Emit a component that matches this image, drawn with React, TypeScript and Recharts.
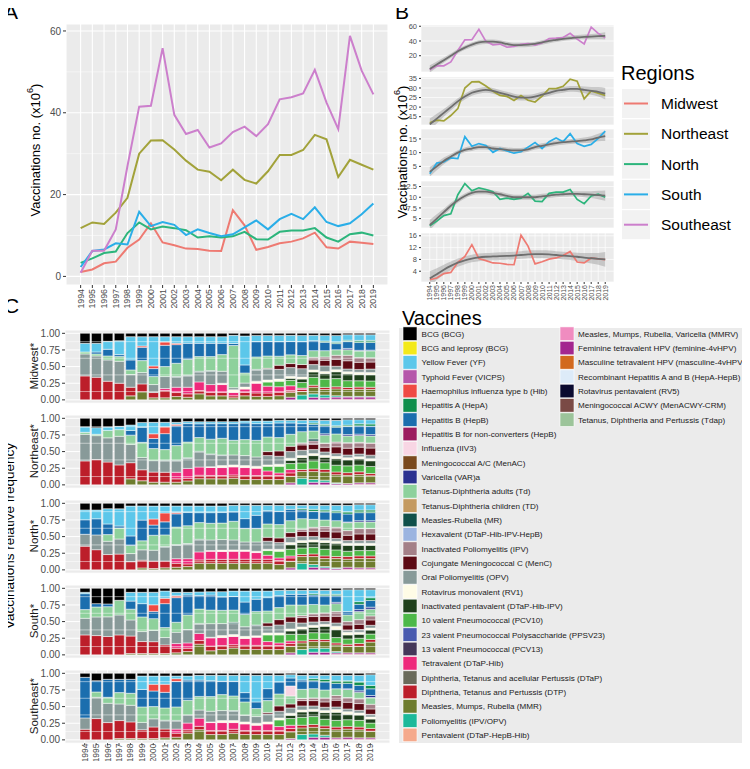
import React from "react";
import {
  LineChart,
  Line,
  XAxis,
  YAxis,
  CartesianGrid,
  ReferenceLine,
  BarChart,
  Bar,
  ComposedChart,
  Area,
} from "recharts";

const FONT = '"Liberation Sans", Arial, Helvetica, sans-serif';

const YEARS = [
  1994, 1995, 1996, 1997, 1998, 1999, 2000, 2001, 2002, 2003, 2004, 2005, 2006,
  2007, 2008, 2009, 2010, 2011, 2012, 2013, 2014, 2015, 2016, 2017, 2018, 2019,
];

// vaccinations (x10^6) per region
const MIDWEST = [1.1, 1.7, 3.2, 3.6, 7, 9, 13, 8.3, 7.6, 6.8, 6.7, 6.3, 6.2, 16.2, 12.5, 6.5, 7.2, 8.1, 8.5, 9.3, 10.7, 7.1, 6.8, 8.5, 8.2, 7.9];
const NORTHEAST = [11.8, 13.2, 12.8, 15.6, 19.2, 30, 33.2, 33.3, 31, 28.3, 26.1, 25.6, 23.5, 26.1, 23.6, 22.7, 25.7, 29.7, 29.7, 30.9, 34.6, 33.5, 24.3, 28.5, 27.3, 26.1];
const NORTH = [3.3, 4.4, 5.7, 6.1, 10.6, 13.2, 11.5, 12.2, 11.8, 11.3, 9.5, 9.8, 9.5, 9.8, 10.9, 9.1, 9.0, 10.9, 11.2, 11.2, 11.8, 9.5, 8.5, 10.3, 10.7, 10.0];
const SOUTH = [2.3, 6.2, 6.6, 8.1, 7.8, 15.8, 12.3, 13.3, 12.6, 10.1, 11.5, 10.6, 9.8, 10.3, 12, 13.7, 11.5, 14, 15.3, 14, 16.9, 13.3, 12.3, 13, 15.2, 17.8];
const SOUTHEAST = [0.9, 6.3, 6.3, 11.5, 27, 41.5, 41.7, 55.8, 39.5, 34.8, 35.8, 31.5, 32.5, 35.3, 36.6, 34.3, 37.2, 43.3, 43.8, 44.7, 50.5, 42.5, 36, 58.8, 50.3, 44.5];

// smoothed trend (grey line) and half-width of its ribbon
const SMOOTH_SE = [2, 8, 14, 20, 26, 31, 35, 38, 39, 39, 38, 36, 34.5, 34.5, 35, 36, 38, 40, 41.5, 43, 44, 45, 45.5, 46, 46.5, 47];
const BAND_SE = [5, 4, 3.5, 3, 3, 3, 3, 3, 3, 3, 3, 3, 3, 3, 3, 3, 3, 3, 3, 3, 3, 3, 3.2, 3.5, 4, 5];
const SMOOTH_NE = [11, 14, 17, 20, 23, 25.5, 27.5, 28.5, 29, 28.5, 27.5, 26.5, 25.5, 25, 25, 25.5, 26.5, 27.5, 28.5, 29, 29.5, 29.5, 29, 28.5, 28, 27];
const BAND_NE = [3, 2.5, 2, 1.8, 1.6, 1.5, 1.5, 1.5, 1.5, 1.5, 1.5, 1.5, 1.5, 1.5, 1.5, 1.5, 1.5, 1.5, 1.5, 1.5, 1.5, 1.6, 1.8, 2, 2.5, 3];
const SMOOTH_S = [3, 5, 7, 8.5, 10, 11, 11.5, 12, 12, 11.5, 11.3, 11, 10.8, 10.8, 11.2, 12, 12.5, 13, 13.5, 13.8, 14, 14.2, 14.5, 14.8, 15.5, 16];
const BAND_S = [1.8, 1.4, 1.2, 1, 0.9, 0.9, 0.9, 0.9, 0.9, 0.9, 0.9, 0.9, 0.9, 0.9, 0.9, 0.9, 0.9, 0.9, 0.9, 0.9, 0.9, 0.9, 1, 1.2, 1.4, 1.8];
const SMOOTH_N = [3.5, 5, 6.5, 8, 9.3, 10.3, 11, 11.3, 11.3, 11, 10.7, 10.3, 10, 10, 10, 10, 10.2, 10.4, 10.6, 10.7, 10.8, 10.8, 10.7, 10.6, 10.5, 10.4];
const BAND_N = [1.2, 1, 0.8, 0.7, 0.6, 0.6, 0.6, 0.6, 0.6, 0.6, 0.6, 0.6, 0.6, 0.6, 0.6, 0.6, 0.6, 0.6, 0.6, 0.6, 0.6, 0.6, 0.7, 0.8, 1, 1.2];
const SMOOTH_MW = [1.5, 3, 4.5, 5.8, 6.9, 7.7, 8.3, 8.7, 8.9, 9, 9.1, 9.2, 9.3, 9.5, 9.7, 9.8, 9.8, 9.7, 9.5, 9.3, 9.1, 8.9, 8.6, 8.4, 8.2, 8];
const BAND_MW = [2.5, 2, 1.7, 1.5, 1.4, 1.3, 1.3, 1.3, 1.3, 1.3, 1.3, 1.3, 1.3, 1.3, 1.3, 1.3, 1.3, 1.3, 1.3, 1.3, 1.3, 1.4, 1.6, 1.8, 2, 2.5];

const REGION_COLORS: Record<string, string> = {
  Midwest: "#EE7A72",
  Northeast: "#A2A23A",
  North: "#2DB57C",
  South: "#2AAEE8",
  Southeast: "#CC7FCC",
};
const REGION_NAMES = ["Midwest", "Northeast", "North", "South", "Southeast"];

// legend order of the vaccines (ggplot stacks the first one on top)
const VACCINES = [
  { key: "bcg", name: "BCG (BCG)", color: "#000000" },
  { key: "bcgl", name: "BCG and leprosy (BCG)", color: "#F3E91A" },
  { key: "yf", name: "Yellow Fever (YF)", color: "#5CC7EA" },
  { key: "vicps", name: "Typhoid Fever (VICPS)", color: "#B556AA" },
  { key: "hib", name: "Haemophilus influenza type b (Hib)", color: "#EF4A43" },
  { key: "hepa", name: "Hepatitis A (HepA)", color: "#108E4C" },
  { key: "hepb", name: "Hepatitis B (HepB)", color: "#1B6EAE" },
  { key: "hepbn", name: "Hepatitis B for non-converters (HepB)", color: "#9B1B5F" },
  { key: "iiv3", name: "Influenza (IIV3)", color: "#F8D6E4" },
  { key: "menac", name: "Meningococcal A/C (MenAC)", color: "#7A4A1E" },
  { key: "var", name: "Varicella (VAR)a", color: "#2B3190" },
  { key: "td", name: "Tetanus-Diphtheria adults (Td)", color: "#8ED19C" },
  { key: "tdc", name: "Tetanus-Diphtheria children (TD)", color: "#C49A60" },
  { key: "mr", name: "Measles-Rubella (MR)", color: "#10504A" },
  { key: "hexa", name: "Hexavalent (DTaP-Hib-IPV-HepB)", color: "#9BB4E0" },
  { key: "ipv", name: "Inactivated Poliomyelitis (IPV)", color: "#A48088" },
  { key: "menc", name: "Cojungate Meningococcal C (MenC)", color: "#5C0A14" },
  { key: "opv", name: "Oral Poliomyelitis (OPV)", color: "#889A99" },
  { key: "rv1", name: "Rotavirus monovalent (RV1)", color: "#FFFCE6" },
  { key: "penta", name: "Inactivated pentavalent (DTaP-Hib-IPV)", color: "#1F401C" },
  { key: "pcv10", name: "10 valent Pneumococcal (PCV10)", color: "#4DB848" },
  { key: "ppsv23", name: "23 valent Pneumococcal Polysaccharide (PPSV23)", color: "#4A5BAF" },
  { key: "pcv13", name: "13 valent Pneumococcal (PCV13)", color: "#45375A" },
  { key: "tetra", name: "Tetravalent (DTaP-Hib)", color: "#EE2A7B" },
  { key: "dtap", name: "Diphtheria, Tetanus and acellular Pertussis (DTaP)", color: "#6A6A5A" },
  { key: "dtp", name: "Diphtheria, Tetanus and Pertussis (DTP)", color: "#BC1E2A" },
  { key: "mmr", name: "Measles, Mumps, Rubella (MMR)", color: "#6E7C2E" },
  { key: "polio", name: "Poliomyelitis (IPV/OPV)", color: "#1CB99A" },
  { key: "pentav", name: "Pentavalent (DTaP-HepB-Hib)", color: "#F5A98C" },
  { key: "mmrv", name: "Measles, Mumps, Rubella, Varicella (MMRV)", color: "#F08CC0" },
  { key: "hpv", name: "Feminine tetravalent HPV (feminine-4vHPV)", color: "#A3268F" },
  { key: "hpvm", name: "Masculine tetravalent HPV (masculine-4vHPV)", color: "#D2691E" },
  { key: "hepahepb", name: "Recombinant Hepatitis A and B (HepA-HepB)", color: "#DDEBF8" },
  { key: "rv5", name: "Rotavirus pentavalent (RV5)", color: "#0A0A30" },
  { key: "menacwy", name: "Meningococcal ACWY (MenACWY-CRM)", color: "#7A4A45" },
  { key: "tdap", name: "Tetanus, Diphtheria and Pertussis (Tdap)", color: "#9CC49A" },
];

type Mix = Record<string, number>;

// relative share of each vaccine per year (1994..2019)
const MIX_MIDWEST: Mix[] = [
  { dtp: 36, opv: 33, td: 3, yf: 13, bcg: 15 },
  { dtp: 34, opv: 32, td: 3, hepb: 3, yf: 13, bcg: 15 },
  { dtp: 28, opv: 32, td: 6, hepb: 10, yf: 12, bcg: 12 },
  { dtp: 25, opv: 33, td: 7, hepb: 3, yf: 21, bcg: 11 },
  { mmr: 6, dtp: 13, opv: 19, td: 7, hepb: 15, yf: 35, bcg: 5 },
  { mmr: 12, dtp: 12, opv: 17, td: 18, hepb: 20, hib: 2, yf: 14, bcg: 5 },
  { mmr: 3, dtp: 8, opv: 12, td: 12, hepb: 12, hib: 4, yf: 44, bcg: 5 },
  { mmr: 3, dtp: 11, tetra: 3, opv: 18, td: 15, hepb: 32, hib: 5, yf: 8, bcg: 5 },
  { mmr: 5, dtp: 6, tetra: 8, opv: 15, mr: 1, td: 20, hepb: 28, hib: 2, yf: 10, bcg: 5 },
  { mmr: 4, dtp: 5, tetra: 10, opv: 17, mr: 1, td: 24, hepb: 24, yf: 10, bcg: 5 },
  { mmr: 9, dtp: 5, tetra: 13, opv: 15, mr: 1, td: 22, hepb: 20, yf: 10, bcg: 5 },
  { mmr: 6, dtp: 5, tetra: 12, opv: 20, mr: 1, td: 21, hepb: 20, yf: 10, bcg: 5 },
  { mmr: 6, dtp: 5, tetra: 12, rv1: 2, opv: 18, td: 25, hepb: 17, yf: 10, bcg: 5 },
  { mmr: 3, dtp: 3, tetra: 5, rv1: 4, opv: 3, td: 62, hepb: 3, yf: 12, bcg: 3 },
  { mmr: 6, dtp: 5, tetra: 5, rv1: 3, opv: 6, td: 15, hepb: 12, yf: 43, bcg: 4 },
  { mmr: 5, dtp: 5, tetra: 14, rv1: 3, opv: 16, mr: 1, td: 18, hepb: 22, yf: 9, bcg: 3 },
  { mmr: 5, dtp: 5, tetra: 10, pcv10: 6, rv1: 3, opv: 16, menc: 1, td: 18, hepb: 21, yf: 9, bcg: 3 },
  { mmr: 6, dtp: 5, tetra: 8, pcv10: 8, rv1: 3, opv: 14, menc: 6, td: 13, hepb: 21, yf: 9, bcg: 3 },
  { hpv: 4, mmr: 7, dtp: 3, tetra: 7, pcv10: 8, penta: 3, rv1: 3, opv: 13, menc: 6, td: 13, hepb: 20, yf: 9, bcg: 3 },
  { polio: 7, mmr: 5, dtp: 3, tetra: 2, pcv10: 8, penta: 5, rv1: 3, opv: 12, menc: 6, td: 13, hepb: 20, yf: 9, bcg: 3 },
  { hpv: 4, polio: 5, mmr: 10, dtp: 3, pcv10: 12, penta: 8, rv1: 3, opv: 8, menc: 7, ipv: 4, td: 10, hepb: 15, yf: 8, bcg: 3 },
  { hpv: 3, polio: 4, mmr: 8, dtp: 3, pcv10: 12, penta: 8, rv1: 3, opv: 8, menc: 8, ipv: 5, td: 9, hepb: 12, hepa: 2, yf: 8, bcg: 3 },
  { hpvm: 1, hpv: 3, polio: 2, mmr: 10, dtp: 3, pcv10: 12, penta: 10, rv1: 3, opv: 5, menc: 10, ipv: 6, td: 8, hepb: 9, hepa: 2, yf: 10, bcg: 3 },
  { hpvm: 1, hpv: 3, polio: 1, mmr: 10, dtp: 3, pcv10: 10, penta: 10, rv1: 3, opv: 4, menc: 12, ipv: 8, td: 8, var: 2, hepb: 10, hepa: 2, yf: 8, bcg: 2 },
  { hpvm: 1, hpv: 3, polio: 1, mmr: 10, dtp: 3, pcv10: 9, penta: 9, rv1: 3, opv: 4, menc: 10, ipv: 7, td: 9, var: 1, hepb: 11, hepa: 3, yf: 8, bcg: 2 },
  { hpvm: 1, hpv: 3, polio: 1, mmr: 10, dtp: 3, pcv10: 9, penta: 9, rv1: 3, opv: 5, menc: 10, ipv: 6, td: 10, var: 1, hepb: 11, hepa: 3, yf: 8, bcg: 2 },
];

const MIX_NORTHEAST: Mix[] = [
  { dtp: 36, opv: 40, td: 3, yf: 8, bcg: 13 },
  { dtp: 38, opv: 36, td: 2, yf: 10, bcg: 14 },
  { dtp: 34, opv: 36, td: 11, yf: 5, bcg: 13 },
  { dtp: 30, opv: 43, td: 10, yf: 5, bcg: 12 },
  { mmr: 9, dtp: 24, opv: 27, td: 14, hepb: 7, yf: 8, bcg: 10 },
  { mmr: 6, dtp: 16, opv: 18, td: 22, hepb: 22, yf: 7, bcg: 6 },
  { mmr: 4, dtp: 15, opv: 17, td: 18, hepb: 15, hib: 7, yf: 17, bcg: 6 },
  { mmr: 4, dtp: 15, opv: 17, mr: 1, td: 16, hepb: 24, hib: 10, yf: 7, bcg: 6 },
  { mmr: 4, dtp: 5, tetra: 10, opv: 17, mr: 1, td: 22, hepb: 30, hib: 2, yf: 3, bcg: 6 },
  { mmr: 6, dtp: 4, tetra: 15, opv: 15, mr: 1, td: 24, hepb: 28, yf: 3, bcg: 5 },
  { mmr: 9, dtp: 5, tetra: 12, opv: 22, mr: 1, td: 20, hepb: 20, yf: 3, bcg: 5 },
  { mmr: 9, dtp: 5, tetra: 12, rv1: 1, opv: 18, mr: 1, td: 22, hepb: 23, yf: 3, bcg: 5 },
  { mmr: 9, dtp: 5, tetra: 12, rv1: 3, opv: 15, mr: 1, td: 25, hepb: 22, yf: 3, bcg: 5 },
  { mmr: 10, dtp: 5, tetra: 12, rv1: 3, opv: 15, td: 22, hepb: 25, yf: 3, bcg: 5 },
  { mmr: 8, dtp: 6, tetra: 12, rv1: 3, opv: 15, td: 24, hepb: 25, yf: 3, bcg: 4 },
  { mmr: 8, dtp: 6, tetra: 11, rv1: 3, opv: 14, td: 25, hepb: 25, yf: 4, bcg: 4 },
  { mmr: 8, dtp: 6, tetra: 7, pcv10: 7, rv1: 2, opv: 14, menc: 6, td: 22, hepb: 20, yf: 4, bcg: 4 },
  { mmr: 8, dtp: 6, tetra: 4, pcv10: 10, rv1: 3, opv: 12, menc: 8, td: 20, hepb: 22, yf: 4, bcg: 3 },
  { hpv: 3, mmr: 10, dtp: 5, tetra: 5, pcv10: 9, penta: 5, rv1: 3, opv: 10, menc: 8, td: 18, hepb: 17, yf: 4, bcg: 3 },
  { polio: 10, mmr: 10, dtp: 3, pcv10: 10, penta: 8, rv1: 3, opv: 8, menc: 8, ipv: 3, td: 17, hepb: 12, yf: 5, bcg: 3 },
  { hpv: 4, polio: 4, mmr: 12, dtp: 4, pcv10: 12, penta: 8, rv1: 3, opv: 6, menc: 8, ipv: 5, mr: 3, td: 12, hepb: 10, hepa: 2, yf: 4, bcg: 3 },
  { hpv: 4, polio: 3, mmr: 12, dtp: 4, pcv10: 10, penta: 8, rv1: 3, opv: 5, menc: 7, ipv: 6, td: 12, var: 2, hepb: 12, hepa: 2, yf: 6, bcg: 3 },
  { hpv: 2, polio: 1, mmr: 12, dtp: 4, pcv10: 10, penta: 10, rv1: 3, opv: 4, menc: 10, ipv: 7, td: 12, hepb: 10, hepa: 2, yf: 8, bcg: 3 },
  { hpv: 2, mmr: 12, dtp: 4, pcv10: 10, penta: 9, rv1: 3, opv: 4, menc: 10, ipv: 8, td: 10, var: 2, hepb: 12, hepa: 2, yf: 8, bcg: 2 },
  { hpvm: 1, hpv: 2, mmr: 12, dtp: 4, pcv10: 10, penta: 9, rv1: 3, opv: 4, menc: 10, ipv: 7, td: 10, var: 2, hepb: 12, hepa: 3, yf: 6, bcg: 2 },
  { hpvm: 1, hpv: 2, mmr: 10, dtp: 3, pcv10: 10, penta: 8, rv1: 3, opv: 5, menc: 10, ipv: 7, td: 10, var: 2, hepb: 12, hepa: 3, yf: 6, bcg: 2 },
];

const MIX_NORTH: Mix[] = [
  { dtp: 36, opv: 18, hepb: 22, yf: 15, bcg: 10 },
  { dtp: 30, opv: 22, hepb: 24, yf: 13, bcg: 10 },
  { dtp: 23, opv: 20, td: 10, hepb: 16, yf: 23, bcg: 8 },
  { dtp: 23, opv: 22, td: 16, hepb: 3, yf: 25, bcg: 8 },
  { dtp: 12, opv: 12, td: 12, hepb: 14, yf: 44, bcg: 4 },
  { mmr: 3, dtp: 12, opv: 16, td: 14, hepb: 32, yf: 22, bcg: 4 },
  { mmr: 2, dtp: 11, opv: 16, td: 22, hepb: 15, hib: 9, yf: 19, bcg: 4 },
  { mmr: 3, dtp: 10, opv: 20, mr: 1, td: 17, hepb: 19, hib: 13, yf: 10, bcg: 4 },
  { mmr: 4, dtp: 6, tetra: 7, opv: 20, mr: 1, td: 27, hepb: 20, hib: 2, yf: 10, bcg: 4 },
  { mmr: 5, dtp: 4, tetra: 8, opv: 22, mr: 1, td: 27, hepb: 20, yf: 10, bcg: 4 },
  { mmr: 10, dtp: 5, tetra: 12, opv: 18, mr: 1, td: 25, hepb: 15, yf: 10, bcg: 4 },
  { mmr: 10, dtp: 6, tetra: 12, rv1: 1, opv: 16, td: 25, hepb: 16, yf: 10, bcg: 4 },
  { mmr: 10, dtp: 6, tetra: 12, rv1: 2, opv: 16, td: 25, hepb: 16, yf: 10, bcg: 4 },
  { mmr: 10, dtp: 6, tetra: 12, rv1: 2, opv: 15, td: 28, hepb: 14, yf: 10, bcg: 3 },
  { mmr: 10, dtp: 6, tetra: 12, rv1: 2, opv: 12, td: 20, hepb: 15, yf: 20, bcg: 3 },
  { mmr: 10, dtp: 6, tetra: 10, rv1: 2, opv: 14, td: 20, hepb: 20, yf: 15, bcg: 3 },
  { mmr: 10, dtp: 6, tetra: 6, pcv10: 7, rv1: 2, opv: 12, menc: 6, td: 20, hepb: 20, yf: 8, bcg: 3 },
  { mmr: 8, dtp: 6, tetra: 4, pcv10: 10, rv1: 3, opv: 10, menc: 7, td: 20, hepb: 20, yf: 9, bcg: 3 },
  { hpv: 3, mmr: 10, dtp: 5, tetra: 3, pcv10: 10, penta: 7, rv1: 3, opv: 8, menc: 7, td: 18, hepb: 17, yf: 6, bcg: 3 },
  { polio: 10, mmr: 10, dtp: 3, pcv10: 10, penta: 8, rv1: 3, opv: 6, menc: 8, ipv: 3, td: 16, hepb: 13, hepa: 2, yf: 5, bcg: 3 },
  { hpv: 4, polio: 4, mmr: 12, dtp: 4, pcv10: 10, penta: 8, rv1: 3, opv: 5, menc: 8, ipv: 6, td: 12, hepb: 12, hepa: 3, yf: 6, bcg: 3 },
  { hpv: 3, polio: 2, mmr: 12, dtp: 4, pcv10: 10, penta: 10, rv1: 3, opv: 4, menc: 10, ipv: 7, td: 10, hepb: 12, hepa: 3, yf: 7, bcg: 3 },
  { hpv: 2, polio: 1, mmr: 14, dtp: 3, pcv10: 10, penta: 10, rv1: 3, opv: 4, menc: 10, ipv: 7, td: 10, hepb: 12, hepa: 3, yf: 8, bcg: 3 },
  { hpvm: 1, hpv: 3, mmr: 12, dtp: 4, pcv10: 8, penta: 9, rv1: 3, opv: 4, menc: 8, ipv: 7, td: 12, var: 1, hepb: 12, hepa: 3, yf: 10, bcg: 3 },
  { hpvm: 1, hpv: 2, mmr: 14, dtp: 4, pcv10: 8, penta: 8, rv1: 3, opv: 4, menc: 10, ipv: 8, td: 10, var: 2, hepb: 12, hepa: 4, yf: 8, bcg: 2 },
  { hpvm: 1, hpv: 2, mmr: 14, dtp: 4, pcv10: 8, penta: 8, rv1: 3, opv: 4, menc: 10, ipv: 8, td: 10, var: 2, hepb: 12, hepa: 4, yf: 8, bcg: 2 },
];

const MIX_SOUTH: Mix[] = [
  { dtp: 30, opv: 25, td: 13, hepb: 24, yf: 2, bcg: 6 },
  { dtp: 29, opv: 28, td: 15, hepb: 5, bcg: 23 },
  { dtp: 27, opv: 29, td: 15, hepb: 4, bcg: 23 },
  { dtp: 30, opv: 30, td: 22, bcg: 18 },
  { mmr: 2, dtp: 26, opv: 24, td: 16, hepb: 12, yf: 13, bcg: 6 },
  { mmr: 2, dtp: 18, opv: 15, td: 22, hepb: 20, yf: 17, bcg: 6 },
  { mmr: 2, dtp: 18, opv: 17, td: 18, hepb: 11, hib: 10, yf: 19, bcg: 6 },
  { mmr: 2, dtp: 13, opv: 11, td: 15, hepb: 36, hib: 8, yf: 11, bcg: 4 },
  { mmr: 3, dtp: 7, tetra: 7, opv: 17, td: 15, hepb: 37, hib: 3, yf: 5, bcg: 6 },
  { mmr: 5, dtp: 5, tetra: 8, opv: 20, td: 22, hepb: 30, yf: 4, bcg: 6 },
  { mmr: 15, dtp: 5, tetra: 10, opv: 13, mr: 1, td: 20, hepb: 19, yf: 5, bcg: 5 },
  { mmr: 6, dtp: 7, tetra: 12, rv1: 1, opv: 20, td: 20, hepb: 22, yf: 5, bcg: 5 },
  { mmr: 8, dtp: 6, tetra: 12, rv1: 3, opv: 18, td: 20, hepb: 20, yf: 8, bcg: 5 },
  { mmr: 10, dtp: 5, tetra: 12, rv1: 3, opv: 16, mr: 2, td: 18, hepb: 20, yf: 8, bcg: 4 },
  { mmr: 8, dtp: 6, tetra: 10, rv1: 3, opv: 14, td: 18, hepb: 18, yf: 16, bcg: 4 },
  { mmr: 8, dtp: 6, tetra: 12, rv1: 2, opv: 15, mr: 1, td: 20, hepb: 18, yf: 12, bcg: 4 },
  { mmr: 8, dtp: 6, tetra: 6, pcv10: 10, rv1: 3, opv: 10, menc: 5, td: 18, hepb: 20, yf: 10, bcg: 4 },
  { mmr: 8, dtp: 6, tetra: 4, pcv10: 12, rv1: 3, opv: 12, menc: 8, td: 18, hepb: 18, yf: 8, bcg: 3 },
  { hpv: 3, mmr: 10, dtp: 4, tetra: 4, pcv10: 10, penta: 5, rv1: 3, opv: 10, menc: 8, td: 18, hepb: 16, yf: 6, bcg: 3 },
  { polio: 8, mmr: 10, dtp: 3, pcv10: 10, penta: 8, rv1: 3, opv: 6, menc: 8, ipv: 3, td: 16, hepb: 16, yf: 6, bcg: 3 },
  { hpv: 4, polio: 6, mmr: 10, dtp: 3, pcv10: 10, penta: 8, rv1: 3, opv: 5, menc: 8, ipv: 4, td: 14, hepb: 14, hepa: 2, yf: 5, bcg: 3 },
  { hpv: 4, polio: 6, mmr: 10, dtp: 3, pcv10: 10, penta: 10, rv1: 3, opv: 4, menc: 8, ipv: 5, td: 12, hepb: 14, hepa: 2, yf: 6, bcg: 3 },
  { hpvm: 1, hpv: 2, polio: 2, mmr: 10, dtp: 3, pcv10: 8, penta: 12, rv1: 5, opv: 5, menc: 10, ipv: 7, td: 12, var: 2, hepb: 10, hepa: 2, yf: 6, bcg: 3 },
  { hpvm: 1, hpv: 2, mmr: 10, dtp: 3, pcv10: 8, penta: 6, rv1: 4, opv: 3, menc: 8, ipv: 5, td: 10, hepb: 5, yf: 33, bcg: 2 },
  { hpvm: 1, hpv: 2, mmr: 10, dtp: 4, pcv10: 8, penta: 6, rv1: 3, opv: 4, menc: 8, ipv: 7, td: 12, var: 3, hepb: 8, hepa: 4, yf: 18, bcg: 2 },
  { hpvm: 1, hpv: 2, mmr: 16, dtp: 4, pcv10: 8, penta: 6, rv1: 3, opv: 4, menc: 8, ipv: 6, td: 10, var: 3, hepb: 10, hepa: 4, yf: 12, bcg: 2 },
];

const MIX_SOUTHEAST: Mix[] = [
  { dtp: 16, opv: 17, hepb: 61, bcg: 6 },
  { dtp: 32, opv: 32, td: 8, hepb: 17, bcg: 11 },
  { dtp: 26, opv: 29, td: 9, hepb: 27, bcg: 9 },
  { mmr: 2, dtp: 27, opv: 25, td: 17, hepb: 20, bcg: 9 },
  { mmr: 2, dtp: 25, opv: 25, td: 18, hepb: 21, bcg: 9 },
  { mmr: 2, dtp: 13, opv: 11, td: 23, hepb: 26, yf: 20, bcg: 4 },
  { mmr: 2, dtp: 17, opv: 12, td: 18, hepb: 23, hib: 10, yf: 12, bcg: 4 },
  { mmr: 3, dtp: 13, opv: 12, mr: 1, td: 18, hepb: 23, hib: 12, yf: 12, bcg: 4 },
  { mmr: 4, dtp: 6, tetra: 6, opv: 12, mr: 1, td: 20, hepb: 38, hib: 4, yf: 4, bcg: 4 },
  { mmr: 10, dtp: 5, tetra: 10, opv: 12, td: 22, hepb: 30, yf: 6, bcg: 4 },
  { mmr: 15, dtp: 5, tetra: 12, opv: 12, td: 20, hepb: 24, yf: 7, bcg: 3 },
  { mmr: 8, dtp: 6, tetra: 12, rv1: 1, opv: 16, td: 22, hepb: 24, yf: 8, bcg: 3 },
  { mmr: 8, dtp: 6, tetra: 12, rv1: 3, opv: 15, td: 24, hepb: 20, yf: 9, bcg: 3 },
  { mmr: 10, dtp: 6, tetra: 10, rv1: 3, opv: 14, mr: 1, td: 22, hepb: 22, yf: 9, bcg: 3 },
  { mmr: 8, dtp: 6, tetra: 10, rv1: 3, opv: 10, td: 20, hepb: 14, yf: 26, bcg: 3 },
  { mmr: 8, dtp: 6, tetra: 8, rv1: 3, opv: 10, td: 12, hepb: 10, yf: 40, bcg: 3 },
  { mmr: 8, dtp: 6, tetra: 10, rv1: 3, opv: 12, menc: 2, td: 18, hepb: 18, yf: 20, bcg: 3 },
  { mmr: 8, dtp: 6, tetra: 6, pcv10: 10, rv1: 3, opv: 10, menc: 8, td: 18, hepb: 18, yf: 10, bcg: 3 },
  { hpv: 2, mmr: 10, dtp: 5, tetra: 5, pcv10: 10, penta: 5, rv1: 3, opv: 8, menc: 6, td: 12, iiv3: 15, hepb: 12, yf: 5, bcg: 2 },
  { polio: 8, mmr: 10, dtp: 4, pcv10: 12, penta: 8, rv1: 3, opv: 6, menc: 8, ipv: 3, td: 14, hepb: 14, yf: 7, bcg: 3 },
  { hpv: 4, polio: 5, mmr: 10, dtp: 4, pcv10: 12, penta: 8, rv1: 3, opv: 5, menc: 8, ipv: 4, td: 14, hepb: 12, hepa: 3, yf: 5, bcg: 3 },
  { hpv: 4, polio: 3, mmr: 10, dtp: 4, pcv10: 10, penta: 10, rv1: 3, opv: 5, menc: 8, ipv: 6, td: 12, hepb: 12, hepa: 4, yf: 6, bcg: 3 },
  { hpvm: 1, hpv: 2, mmr: 12, dtp: 4, pcv10: 10, penta: 12, rv1: 4, opv: 4, menc: 10, ipv: 7, td: 10, hepb: 8, hepa: 4, yf: 8, bcg: 3 },
  { hpvm: 1, hpv: 3, mmr: 12, dtp: 4, pcv10: 10, penta: 8, rv1: 4, opv: 4, menc: 10, ipv: 7, td: 12, var: 1, hepb: 8, hepa: 4, yf: 8, bcg: 3 },
  { hpvm: 1, hpv: 2, mmr: 12, dtp: 4, pcv10: 10, penta: 8, rv1: 3, opv: 4, menc: 10, ipv: 7, td: 10, var: 2, hepb: 8, hepa: 5, yf: 10, bcg: 3 },
  { hpvm: 1, hpv: 2, mmr: 10, dtp: 4, pcv10: 8, penta: 6, rv1: 3, opv: 4, menc: 8, ipv: 7, td: 10, var: 3, hepb: 10, hepa: 5, yf: 16, bcg: 2 },
];

const lineData = YEARS.map((year, i) => ({
  year,
  Midwest: MIDWEST[i],
  Northeast: NORTHEAST[i],
  North: NORTH[i],
  South: SOUTH[i],
  Southeast: SOUTHEAST[i],
}));

// panel B facets, top to bottom
const FACETS_B = [
  { name: "Southeast", values: SOUTHEAST, smooth: SMOOTH_SE, band: BAND_SE, domain: [-2.1, 61.7], ticks: [20, 40, 60], top: 25, h: 47 },
  { name: "Northeast", values: NORTHEAST, smooth: SMOOTH_NE, band: BAND_NE, domain: [10.66, 35.74], ticks: [15, 20, 25, 30, 35], top: 77, h: 48 },
  { name: "South", values: SOUTH, smooth: SMOOTH_S, band: BAND_S, domain: [1.5, 18.6], ticks: [5, 10, 15], top: 129, h: 47 },
  { name: "North", values: NORTH, smooth: SMOOTH_N, band: BAND_N, domain: [2.8, 13.8], ticks: [5, 7.5, 10, 12.5], top: 181, h: 47 },
  { name: "Midwest", values: MIDWEST, smooth: SMOOTH_MW, band: BAND_MW, domain: [0.35, 16.95], ticks: [4, 8, 12, 16], top: 233, h: 49 },
];

const FACETS_C = [
  { label: "Midwest*", mix: MIX_MIDWEST },
  { label: "Northeast*", mix: MIX_NORTHEAST },
  { label: "North*", mix: MIX_NORTH },
  { label: "South*", mix: MIX_SOUTH },
  { label: "Southeast*", mix: MIX_SOUTHEAST },
];

// bottom of the stack first
const STACK = [...VACCINES].reverse();

function toShares(mix: Mix[]) {
  return YEARS.map((year, i) => {
    const row = mix[i];
    const total = Object.values(row).reduce((a, b) => a + b, 0);
    const out: Record<string, number> = { year };
    STACK.forEach((v) => {
      out[v.key] = (row[v.key] ?? 0) / total;
    });
    return out;
  });
}

function usedKeys(mix: Mix[]) {
  return STACK.filter((v) => mix.some((r) => (r[v.key] ?? 0) > 0));
}

function YearTick(props: any) {
  const { x, y, payload, fs, off = 0 } = props;
  const ty = y + off;
  return (
    <text
      x={x}
      y={ty}
      transform={`rotate(-90, ${x}, ${ty})`}
      textAnchor="end"
      dominantBaseline="central"
      fontSize={fs}
      fill="#4D4D4D"
    >
      {payload.value}
    </text>
  );
}

const PAD = 6; // room above each small chart so its top tick label is not clipped

function PanelA() {
  return (
    <div style={{ position: "absolute", left: 0, top: 0 }}>
      <LineChart width={400} height={330} data={lineData} margin={{ top: 24, right: 12, left: 46, bottom: 0 }}>
        <CartesianGrid fill="#EBEBEB" stroke="#fff" strokeWidth={1.1} />
        {[10, 30, 50].map((v) => (
          <ReferenceLine key={v} y={v} stroke="#fff" strokeWidth={0.5} />
        ))}
        <XAxis
          type="number"
          dataKey="year"
          domain={[1992.75, 2020.25]}
          ticks={YEARS}
          interval={0}
          height={45}
          axisLine={false}
          tickSize={3}
          tickMargin={1}
          tickLine={{ stroke: "#333" }}
          tick={<YearTick fs={8.8} />}
          allowDataOverflow
        />
        <YAxis
          domain={[-2.1, 61.7]}
          ticks={[0, 20, 40, 60]}
          interval={0}
          width={20}
          axisLine={false}
          tickSize={3}
          tickLine={{ stroke: "#333" }}
          tick={{ fontSize: 10, fill: "#4D4D4D" }}
          allowDataOverflow
        />
        {REGION_NAMES.map((r) => (
          <Line
            key={r}
            dataKey={r}
            type="linear"
            stroke={REGION_COLORS[r]}
            strokeWidth={2}
            dot={false}
            isAnimationActive={false}
          />
        ))}
      </LineChart>
    </div>
  );
}

function PanelB() {
  return (
    <>
      {FACETS_B.map((f, idx) => {
        const last = idx === FACETS_B.length - 1;
        const data = YEARS.map((year, i) => ({
          year,
          value: f.values[i],
          smooth: f.smooth[i],
          ribbon: [f.smooth[i] - f.band[i], f.smooth[i] + f.band[i]],
        }));
        const axisH = last ? 22 : 4;
        return (
          <div key={f.name} style={{ position: "absolute", left: 395, top: f.top - PAD }}>
            <ComposedChart
              width={225}
              height={PAD + f.h + axisH}
              data={data}
              margin={{ top: PAD, right: 6, left: 0, bottom: 0 }}
            >
              <CartesianGrid fill="#EBEBEB" stroke="#fff" strokeWidth={0.7} />
              <XAxis
                type="number"
                dataKey="year"
                domain={[1992.75, 2020.25]}
                ticks={YEARS}
                interval={0}
                height={axisH}
                axisLine={false}
                tickLine={last ? { stroke: "#333" } : false}
                tickSize={2}
                tickMargin={1}
                tick={last ? <YearTick fs={7} /> : false}
                allowDataOverflow
              />
              <YAxis
                domain={f.domain}
                ticks={f.ticks}
                interval={0}
                width={26}
                axisLine={false}
                tickSize={2}
                tickLine={{ stroke: "#333" }}
                tick={{ fontSize: 7.5, fill: "#4D4D4D" }}
                allowDataOverflow
              />
              <Area
                dataKey="ribbon"
                type="monotone"
                stroke="none"
                fill="#999"
                fillOpacity={0.45}
                isAnimationActive={false}
              />
              <Line
                dataKey="value"
                type="linear"
                stroke={REGION_COLORS[f.name]}
                strokeWidth={1.7}
                dot={false}
                isAnimationActive={false}
              />
              <Line
                dataKey="smooth"
                type="monotone"
                stroke="#6E6E6E"
                strokeWidth={1.8}
                dot={false}
                isAnimationActive={false}
              />
            </ComposedChart>
          </div>
        );
      })}
    </>
  );
}

const C_TOP = 329.5;
const C_STEP = 85.0;
const C_H = 73.2;

function PanelC() {
  return (
    <>
      {FACETS_C.map((f, idx) => {
        const last = idx === FACETS_C.length - 1;
        const data = toShares(f.mix);
        const keys = usedKeys(f.mix);
        const axisH = last ? 26 : 5;
        return (
          <div key={f.label} style={{ position: "absolute", left: 0, top: C_TOP + idx * C_STEP - PAD }}>
            <BarChart
              width={392}
              height={PAD + C_H + axisH}
              data={data}
              margin={{ top: PAD, right: 2, left: 38, bottom: 0 }}
              barSize={10}
            >
              <CartesianGrid fill="#EBEBEB" stroke="#fff" strokeWidth={1} />
              {[0.125, 0.375, 0.625, 0.875].map((v) => (
                <ReferenceLine key={v} y={v} stroke="#fff" strokeWidth={0.5} />
              ))}
              <XAxis
                dataKey="year"
                interval={0}
                padding={{ left: 14, right: 14 }}
                height={axisH}
                axisLine={false}
                tickSize={2}
                tickMargin={0}
                tickLine={{ stroke: "#333" }}
                tick={last ? <YearTick fs={8.4} off={-1.5} /> : false}
              />
              <YAxis
                domain={[-0.05, 1.05]}
                ticks={[0, 0.25, 0.5, 0.75, 1]}
                interval={0}
                tickFormatter={(v: number) => v.toFixed(2)}
                width={27}
                axisLine={false}
                tickSize={3}
                tickLine={{ stroke: "#333" }}
                tick={{ fontSize: 10, fill: "#4D4D4D" }}
                allowDataOverflow
              />
              {keys.map((v) => (
                <Bar
                  key={v.key}
                  dataKey={v.key}
                  stackId="mix"
                  fill={v.color}
                  stroke="#fff"
                  strokeWidth={0.5}
                  isAnimationActive={false}
                />
              ))}
            </BarChart>
          </div>
        );
      })}
    </>
  );
}

function Overlay() {
  const yTitle = (x: number, y: number, size: number) => (
    <text
      x={x}
      y={y}
      transform={`rotate(-90, ${x}, ${y})`}
      textAnchor="middle"
      dominantBaseline="central"
      fontSize={size}
      fill="#000"
    >
      Vaccinations no. (x10
      <tspan dy={-5} fontSize={size * 0.7}>6</tspan>
      <tspan dy={5}>)</tspan>
    </text>
  );
  const col1 = VACCINES.slice(0, 29);
  const col2 = VACCINES.slice(29);
  const rowY = (i: number) => 333.7 + i * 14.33;
  return (
    <svg
      width={750}
      height={769}
      style={{ position: "absolute", left: 0, top: 0, pointerEvents: "none" }}
    >
      <text x={4} y={19} fontSize={21} fill="#000">A</text>
      <text x={395} y={19} fontSize={21} fill="#000">B</text>
      <text x={4} y={313} fontSize={21} fill="#000">C</text>

      {yTitle(35, 150, 13)}
      {yTitle(402, 152, 13)}

      <text
        x={9}
        y={536}
        transform="rotate(-90, 9, 536)"
        textAnchor="middle"
        dominantBaseline="central"
        fontSize={13.5}
        fill="#000"
      >
        Vaccinations relative frequency
      </text>

      {FACETS_C.map((f, idx) => {
        const cy = C_TOP + idx * C_STEP + C_H / 2;
        return (
          <text
            key={f.label}
            x={34}
            y={cy}
            transform={`rotate(-90, 34, ${cy})`}
            textAnchor="middle"
            dominantBaseline="central"
            fontSize={11.5}
            fill="#1A1A1A"
          >
            {f.label}
          </text>
        );
      })}

      {/* Regions legend */}
      <text x={621} y={80} fontSize={20} fill="#000">Regions</text>
      {REGION_NAMES.map((r, i) => {
        const top = 89 + i * 30.3;
        return (
          <g key={r}>
            <rect x={622} y={top} width={28} height={29} fill="#F2F2F2" />
            <line x1={624} x2={648} y1={top + 14.5} y2={top + 14.5} stroke={REGION_COLORS[r]} strokeWidth={2} />
            <text x={661} y={top + 20} fontSize={15.5} fill="#000">{r}</text>
          </g>
        );
      })}

      {/* Vaccines legend */}
      <text x={402} y={325} fontSize={20} fill="#000">Vaccines</text>
      <rect x={399} y={328} width={349} height={415} fill="#EBEBEB" />
      {col1.map((v, i) => (
        <g key={v.key}>
          <rect x={403} y={rowY(i) - 6.8} width={14} height={13.6} fill={v.color} stroke="#fff" strokeWidth={0.6} />
          <text x={421.5} y={rowY(i) + 3} fontSize={8.1} fill="#1A1A1A">{v.name}</text>
        </g>
      ))}
      {col2.map((v, i) => (
        <g key={v.key}>
          <rect x={560} y={rowY(i) - 6.8} width={14} height={13.6} fill={v.color} stroke="#fff" strokeWidth={0.6} />
          <text x={578} y={rowY(i) + 3} fontSize={8.1} fill="#1A1A1A">{v.name}</text>
        </g>
      ))}
    </svg>
  );
}

export default function App() {
  return (
    <div
      style={{
        position: "relative",
        width: 750,
        height: 769,
        margin: -8,
        background: "#fff",
        overflow: "hidden",
        fontFamily: FONT,
      }}
    >
      <PanelA />
      <PanelB />
      <PanelC />
      <Overlay />
    </div>
  );
}
